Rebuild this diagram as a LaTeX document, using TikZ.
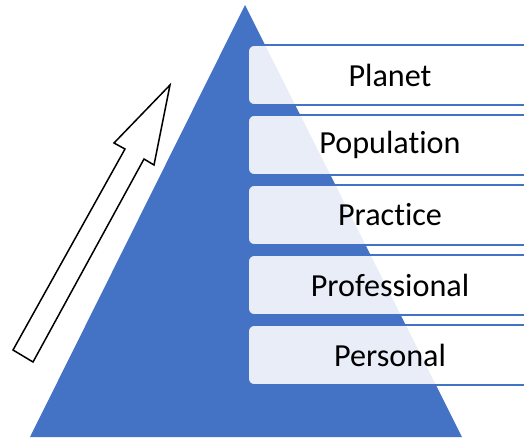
\documentclass[tikz,border=0pt]{standalone}
\usepackage{fontspec}
\setmainfont{Carlito}[Ligatures=NoCommon]
\definecolor{pyrblue}{HTML}{4472C4}
\tikzset{
    layer/.style={draw=pyrblue, line width=1pt, fill=white, fill opacity=0.88, text opacity=1,
        rounded corners=3.5pt, minimum width=5.68cm, minimum height=1.2cm,
        font=\fontsize{18.3}{21}\selectfont},
}
\begin{document}
\begin{tikzpicture}[x=0.02cm, y=-0.02cm]
        \useasboundingbox (0,0) rectangle (524,437);
        \fill[pyrblue] (245,5) -- (30,437) -- (462,437) -- cycle;
        \foreach \n/\t/\y in {planet/Planet/75,population/Population/145,practice/Practice/215,professional/Professional/285,personal/Personal/355}
        {%
            \node[layer] (\n) at (390,\y) {\t};
        }%
        \draw[line width=0.85pt, fill=white] (13,350) -- (125,149) -- (114,143) -- (170,85) -- (154,165) -- (144,159) -- (33,362) -- cycle;
    \end{tikzpicture}
\end{document}
